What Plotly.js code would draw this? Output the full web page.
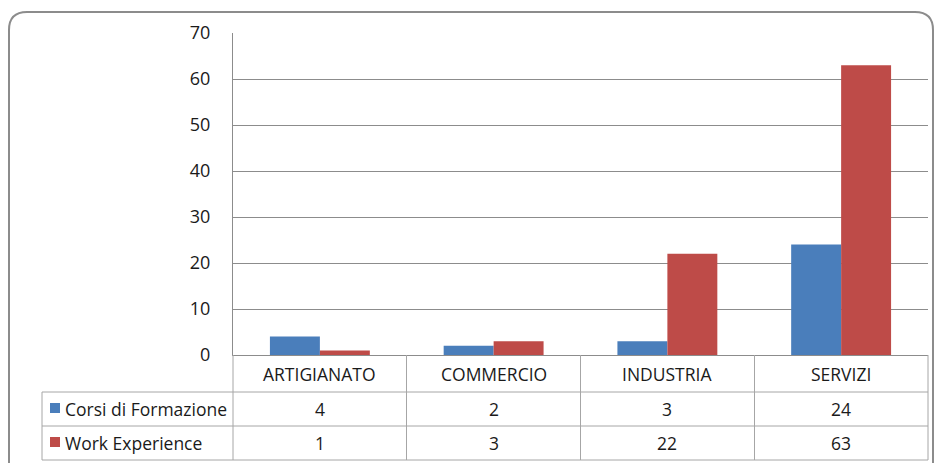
<!DOCTYPE html>
<html>
<head>
<meta charset="utf-8">
<script src="https://cdn.plot.ly/plotly-3.0.1.min.js"></script>
<style>
  html, body { margin: 0; padding: 0; background: #ffffff; }
  #chart { width: 938px; height: 463px; }
</style>
</head>
<body>
<div id="chart"></div>
<script>
// ---- data ----
const categories = ["ARTIGIANATO", "COMMERCIO", "INDUSTRIA", "SERVIZI"];
const seriesNames = ["Corsi di Formazione", "Work Experience"];
const corsiValues = [4, 2, 3, 24];
const workValues = [1, 3, 22, 63];
const yTicks = [0, 10, 20, 30, 40, 50, 60, 70];

// ---- layout helpers (pixel -> paper) ----
const L = 233, R = 928, T = 33, B = 355;
const W = R - L, H = B - T;
const px = v => (v - L) / W;
const py = v => (B - v) / H;

const colors = ["#4A7EBB", "#BE4B48"];
const lineCol = "#A6A6A6";
const font = { family: "Open Sans, Noto Sans, sans-serif", size: 17.5, color: "#1a1a1a" };
const tickFont = { family: "Open Sans, Noto Sans, sans-serif", size: 18, color: "#1a1a1a" };

const traces = [
  { type: "bar", name: seriesNames[0], x: categories, y: corsiValues,
    marker: { color: colors[0], line: { width: 0 } }, hoverinfo: "skip" },
  { type: "bar", name: seriesNames[1], x: categories, y: workValues,
    marker: { color: colors[1], line: { width: 0 } }, hoverinfo: "skip" }
];

const shapes = [];
function hline(x0, x1, y, c) {
  shapes.push({ type: "line", xref: "paper", yref: "paper", x0: px(x0), x1: px(x1), y0: py(y), y1: py(y),
    line: { color: c || lineCol, width: 1 } });
}
function vline(x, y0, y1, c) {
  shapes.push({ type: "line", xref: "paper", yref: "paper", x0: px(x), x1: px(x), y0: py(y0), y1: py(y1),
    line: { color: c || lineCol, width: 1 } });
}
// table grid
const colEdges = [233, 406.5, 580.5, 754.5, 928];
const rowLines = [392, 426, 460];
rowLines.forEach(y => hline(42, 928, y));
vline(42, 392, 460);
colEdges.forEach(x => vline(x, 355, 460));
// outer rounded border
const bl = 9, bt = 12, br = 933, bb = 475, rad = 18;
shapes.push({
  type: "path", xref: "paper", yref: "paper",
  path: `M ${px(bl)},${py(bb)} L ${px(bl)},${py(bt + rad)} Q ${px(bl)},${py(bt)} ${px(bl + rad)},${py(bt)} ` +
        `L ${px(br - rad)},${py(bt)} Q ${px(br)},${py(bt)} ${px(br)},${py(bt + rad)} L ${px(br)},${py(bb)}`,
  line: { color: "#8C8C8C", width: 2 }, layer: "below"
});
// legend keys
const keyY = [403, 437];
keyY.forEach((y, i) => {
  shapes.push({ type: "rect", xref: "paper", yref: "paper", x0: px(50), x1: px(60), y0: py(y), y1: py(y + 10),
    fillcolor: colors[i], line: { width: 0 } });
});

const annotations = [];
const rowCenters = [374, 409, 443];
categories.forEach((c, i) => {
  annotations.push({ xref: "x", yref: "paper", x: c, y: py(rowCenters[0]), text: c, showarrow: false,
    xanchor: "center", yanchor: "middle", font: font });
  annotations.push({ xref: "x", yref: "paper", x: c, y: py(rowCenters[1]), text: String(corsiValues[i]), showarrow: false,
    xanchor: "center", yanchor: "middle", font: font });
  annotations.push({ xref: "x", yref: "paper", x: c, y: py(rowCenters[2]), text: String(workValues[i]), showarrow: false,
    xanchor: "center", yanchor: "middle", font: font });
});
seriesNames.forEach((n, i) => {
  annotations.push({ xref: "paper", yref: "paper", x: px(63), y: py(rowCenters[i + 1]), text: n, showarrow: false,
    xanchor: "left", yanchor: "middle", font: font });
});

const layout = {
  width: 938, height: 463,
  margin: { l: L, r: 938 - R, t: T, b: 463 - B, pad: 0 },
  paper_bgcolor: "#ffffff", plot_bgcolor: "#ffffff",
  showlegend: false,
  barmode: "group", bargap: 0.425, bargroupgap: 0,
  font: font,
  xaxis: { type: "category", showticklabels: false, ticks: "", showgrid: false,
    showline: true, linecolor: "#8C8C8C", linewidth: 1, zeroline: false, fixedrange: true },
  yaxis: { range: [0, 70], tickvals: yTicks, ticktext: yTicks.map(String), ticks: "",
    ticklabelstandoff: 18, showgrid: true, gridcolor: "#8C8C8C", gridwidth: 1,
    showline: true, linecolor: "#8C8C8C", linewidth: 1, zeroline: false, fixedrange: true,
    tickfont: tickFont },
  shapes: shapes,
  annotations: annotations
};

Plotly.newPlot("chart", traces, layout, { displayModeBar: false, staticPlot: true });
</script>
</body>
</html>
